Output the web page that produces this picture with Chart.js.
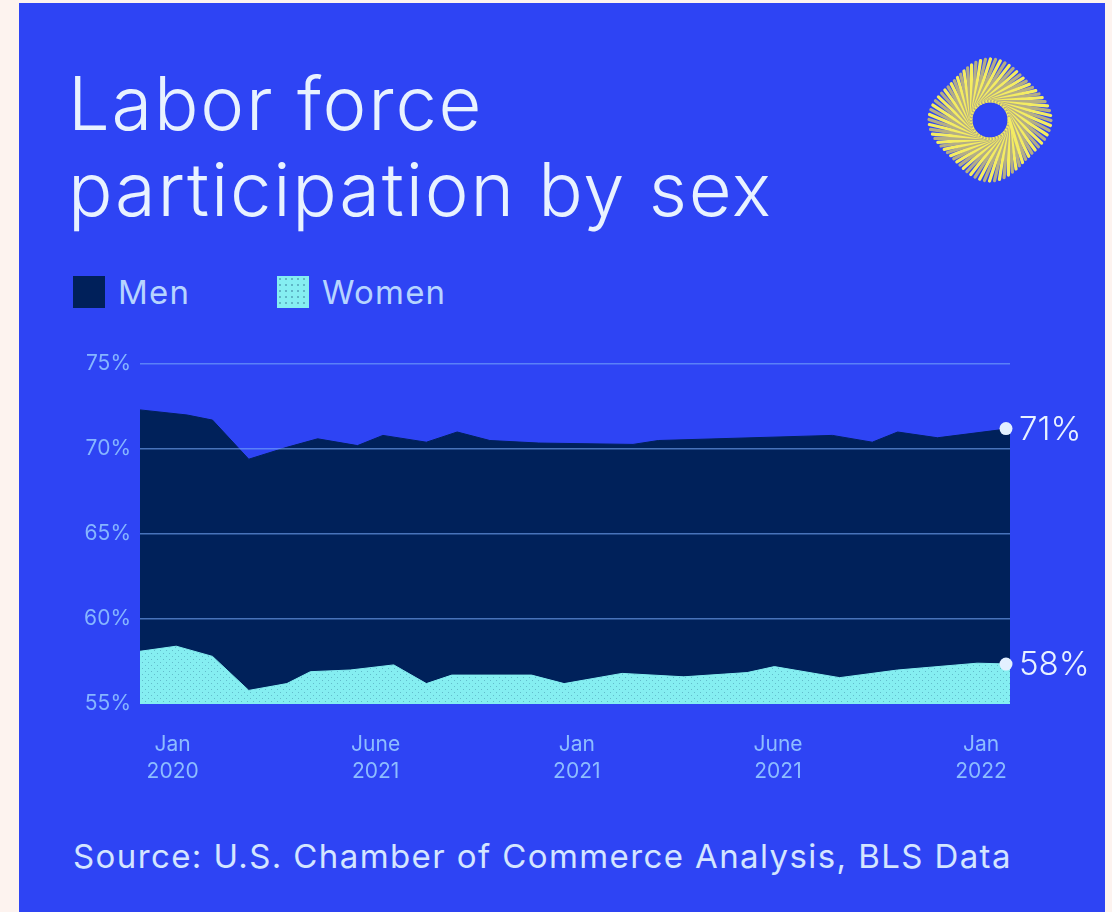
<!DOCTYPE html>
<html>
<head>
<meta charset="utf-8">
<script src="https://cdn.jsdelivr.net/npm/chart.js@4/dist/chart.umd.min.js"></script>
<style>
  html, body { margin: 0; padding: 0; }
  body { width: 1112px; height: 912px; background: #fdf3ef; position: relative; overflow: hidden; font-family: Inter, "Noto Sans", sans-serif; }
  .card { position: absolute; left: 19px; top: 3px; width: 1086px; height: 909px; background: #2e44f4; }
  .title { position: absolute; left: 68px; top: 60px; color: #e8f2ff; font-weight: 300; font-size: 74px; line-height: 86px; letter-spacing: 1.8px; white-space: nowrap; }
  .legend-item { position: absolute; top: 272px; color: #b6d4ff; font-size: 33px; letter-spacing: 1.2px; display: flex; align-items: center; }
  .swatch { width: 32px; height: 32px; margin-right: 13px; }
  .swatch.men { background: #00205a; }
  .swatch.women { background-color: #85eef1; background-image: radial-gradient(#5fb6c6 0.8px, transparent 1.2px); background-size: 6px 6px; }
  .source { position: absolute; left: 73px; top: 836px; color: #d4e5ff; font-size: 33px; letter-spacing: 1.4px; white-space: nowrap; }
  #logo { position: absolute; left: 920px; top: 50px; }
  .chart-wrap { position: absolute; left: 60px; top: 340px; width: 1040px; height: 460px; }
</style>
</head>
<body>
<div class="card"></div>
<div class="title">Labor force<br>participation by sex</div>
<canvas id="logo" width="140" height="140"></canvas>
<div class="legend-item" style="left:73px"><div class="swatch men"></div>Men</div>
<div class="legend-item" style="left:277px"><div class="swatch women"></div>Women</div>
<div class="chart-wrap"><canvas id="chart"></canvas></div>
<div class="source">Source: U.S. Chamber of Commerce Analysis, BLS Data</div>
<script>
"use strict";

// months since Jan 2020 and participation rate, %
const MEN_MONTHS = [0, 1.3, 2.0, 3.0, 4.05, 4.9, 6.0, 6.7, 7.9, 8.75, 9.65, 11.0, 13.6, 14.3, 19.1, 20.2, 20.9, 22.0, 24];
const MEN_RATE = [72.3, 72.0, 71.7, 69.4, 70.1, 70.6, 70.2, 70.8, 70.4, 71.0, 70.5, 70.35, 70.27, 70.5, 70.8, 70.4, 71.0, 70.66, 71.2];
const WOMEN_MONTHS = [0, 1.0, 2.0, 3.0, 4.05, 4.7, 5.8, 7.0, 7.9, 8.6, 10.8, 11.7, 13.3, 15.0, 16.75, 17.5, 19.3, 20.9, 23.1, 24];
const WOMEN_RATE = [58.1, 58.4, 57.8, 55.8, 56.2, 56.9, 57.0, 57.3, 56.2, 56.7, 56.7, 56.2, 56.8, 56.6, 56.85, 57.2, 56.55, 57.0, 57.4, 57.35];
const END_LABELS = ["71%", "58%"];
const TICK_MONTHS = [0.9, 6.5, 12.05, 17.6, 23.2];
const TICK_LABELS = [["Jan", "2020"], ["June", "2021"], ["Jan", "2021"], ["June", "2021"], ["Jan", "2022"]];
const Y_TICKS = [55, 60, 65, 70, 75];

function drawLogo() {
  const ctx = document.getElementById("logo").getContext("2d");
  const cx = 70, cy = 70, n = 76;
  ctx.lineCap = "round";
  for (let i = 0; i < n; i++) {
    const a = (i / n) * Math.PI * 2;
    const b = a + 1.0;
    const r0 = 19, r1 = 57 * (1 + 0.07 * Math.cos(4 * b));
    ctx.strokeStyle = i % 2 ? "#f4ec62" : "#b4ae86";
    ctx.lineWidth = 3.2;
    ctx.beginPath();
    ctx.moveTo(cx + r0 * Math.cos(a), cy + r0 * Math.sin(a));
    ctx.lineTo(cx + r1 * Math.cos(b), cy + r1 * Math.sin(b));
    ctx.stroke();
  }
  ctx.fillStyle = "#2e44f4";
  ctx.beginPath();
  ctx.arc(cx, cy, 17, 0, Math.PI * 2);
  ctx.fill();
}

function dotPattern() {
  const c = document.createElement("canvas");
  c.width = 6; c.height = 6;
  const g = c.getContext("2d");
  g.fillStyle = "#85eef1";
  g.fillRect(0, 0, 6, 6);
  g.fillStyle = "#62bccb";
  g.fillRect(1, 1, 1, 1);
  g.fillRect(4, 4, 1, 1);
  return g.createPattern(c, "repeat");
}

const endLabels = {
  id: "endLabels",
  afterDatasetsDraw(chart) {
    const ctx = chart.ctx;
    chart.data.datasets.forEach((ds, i) => {
      const pts = chart.getDatasetMeta(i).data;
      const p = pts[pts.length - 1];
      ctx.save();
      ctx.fillStyle = "#e3f0ff";
      ctx.beginPath();
      ctx.arc(p.x - 4, p.y, 6.5, 0, Math.PI * 2);
      ctx.fill();
      ctx.font = "300 33px Inter, sans-serif";
      ctx.textBaseline = "middle";
      ctx.fillStyle = "#e8f2ff";
      ctx.fillText(ds.endLabel, p.x + 9, p.y + 1);
      ctx.restore();
    });
  },
};

drawLogo();

new Chart(document.getElementById("chart"), {
  type: "line",
  data: {
    datasets: [
      {
        label: "Women",
        endLabel: END_LABELS[1],
        data: WOMEN_MONTHS.map((m, i) => ({ x: m, y: WOMEN_RATE[i] })),
        fill: "start",
        backgroundColor: dotPattern(),
        borderColor: "#85eef1",
        borderWidth: 1,
        pointRadius: 0,
        tension: 0,
        order: 0,
      },
      {
        label: "Men",
        endLabel: END_LABELS[0],
        data: MEN_MONTHS.map((m, i) => ({ x: m, y: MEN_RATE[i] })),
        fill: "start",
        backgroundColor: "#00215a",
        borderColor: "#00215a",
        borderWidth: 1,
        pointRadius: 0,
        tension: 0,
        order: 1,
      },
    ],
  },
  options: {
    responsive: true,
    maintainAspectRatio: false,
    animation: false,
    layout: { padding: { top: 24, right: 90, left: 0, bottom: 0 } },
    plugins: { legend: { display: false }, tooltip: { enabled: false } },
    scales: {
      x: {
        type: "linear",
        min: 0,
        max: 24,
        afterBuildTicks: (scale) => { scale.ticks = TICK_MONTHS.map((v) => ({ value: v })); },
        afterFit: (scale) => { scale.height = 96; },
        grid: { display: false, drawTicks: false },
        border: { display: false },
        ticks: {
          autoSkip: false,
          maxRotation: 0,
          padding: 27,
          color: "#8dbdff",
          font: { family: "Inter, sans-serif", size: 21, lineHeight: 1.28 },
          callback: (v, i) => TICK_LABELS[i],
        },
      },
      y: {
        min: 55,
        max: 75,
        afterBuildTicks: (scale) => { scale.ticks = Y_TICKS.map((v) => ({ value: v })); },
        afterFit: (scale) => { scale.width = 80; },
        grid: {
          z: 1,
          drawTicks: false,
          lineWidth: 1.5,
          color: (c) => (c.tick && c.tick.value === 55 ? "rgba(0,0,0,0)" : "rgba(120,170,250,0.6)"),
        },
        border: { display: false },
        ticks: {
          padding: 9,
          color: "#86b6ff",
          font: { family: "Inter, sans-serif", size: 21 },
          callback: (v) => v + "%",
        },
      },
    },
  },
  plugins: [endLabels],
});
</script>
</body>
</html>
